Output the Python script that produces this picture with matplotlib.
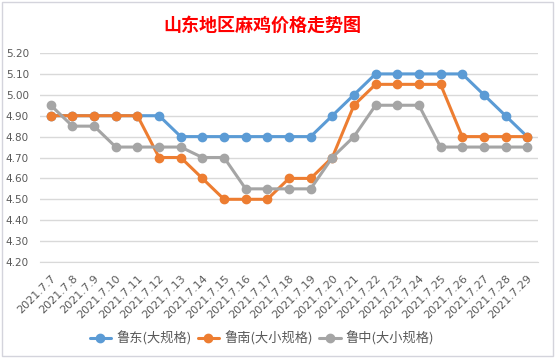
import matplotlib
matplotlib.use("Agg")
import matplotlib.pyplot as plt
import matplotlib.transforms as mtransforms
from matplotlib.patches import Rectangle

plt.rcParams['font.family'] = ['Noto Sans CJK SC', 'DejaVu Sans']

# data
dates = ["2021.7.7", "2021.7.8", "2021.7.9", "2021.7.10", "2021.7.11", "2021.7.12",
         "2021.7.13", "2021.7.14", "2021.7.15", "2021.7.16", "2021.7.17", "2021.7.18",
         "2021.7.19", "2021.7.20", "2021.7.21", "2021.7.22", "2021.7.23", "2021.7.24",
         "2021.7.25", "2021.7.26", "2021.7.27", "2021.7.28", "2021.7.29"]
ludong = [4.90, 4.90, 4.90, 4.90, 4.90, 4.90, 4.80, 4.80, 4.80, 4.80, 4.80, 4.80,
          4.80, 4.90, 5.00, 5.10, 5.10, 5.10, 5.10, 5.10, 5.00, 4.90, 4.80]
lunan = [4.90, 4.90, 4.90, 4.90, 4.90, 4.70, 4.70, 4.60, 4.50, 4.50, 4.50, 4.60,
         4.60, 4.70, 4.95, 5.05, 5.05, 5.05, 5.05, 4.80, 4.80, 4.80, 4.80]
luzhong = [4.95, 4.85, 4.85, 4.75, 4.75, 4.75, 4.75, 4.70, 4.70, 4.55, 4.55, 4.55,
           4.55, 4.70, 4.80, 4.95, 4.95, 4.95, 4.75, 4.75, 4.75, 4.75, 4.75]
series_names = ["鲁东(大规格)", "鲁南(大小规格)", "鲁中(大小规格)"]
y_ticks = [4.2, 4.3, 4.4, 4.5, 4.6, 4.7, 4.8, 4.9, 5.0, 5.1, 5.2]

colors = ["#5B9BD5", "#ED7D31", "#A5A5A5"]
text_color = "#595959"

fig = plt.figure(figsize=(5.56, 3.6), dpi=100)
fig.patches.append(Rectangle((2 / 556, 4 / 360), 551 / 556, 354 / 360, transform=fig.transFigure,
                             fill=False, edgecolor="#D4D4DC", linewidth=1.0))
ax = fig.add_axes([40 / 556, 1 - 262 / 360, 498 / 556, 209 / 360])

x = list(range(len(dates)))
for vals, name, c in zip([ludong, lunan, luzhong], series_names, colors):
    ax.plot(x, vals, color=c, linewidth=2.2, marker='o', markersize=6,
            label=name, solid_capstyle='round')

ax.set_xlim(-0.5, len(dates) - 0.5)
ax.set_ylim(4.2, 5.2)
ax.set_yticks(y_ticks)
ax.set_yticklabels(["{:.2f}".format(v) for v in y_ticks], fontsize=7.5, color=text_color,
                   family=['DejaVu Sans'])
ax.set_xticks(x)
ax.set_xticklabels(dates, rotation=45, ha='right', rotation_mode='anchor',
                   fontsize=8, color=text_color, family=['DejaVu Sans'])
offset = mtransforms.ScaledTranslation(-3 / 100, -14 / 100, fig.dpi_scale_trans)
for lab in ax.get_xticklabels():
    lab.set_transform(lab.get_transform() + offset)

ax.grid(axis='y', color="#D9D9D9", linewidth=1.0)
ax.set_axisbelow(True)
ax.tick_params(length=0, pad=8)
for s in ["top", "right", "left"]:
    ax.spines[s].set_visible(False)
ax.spines["bottom"].set_color("#D9D9D9")

fig.text(262 / 556, 1 - 25 / 360, "山东地区麻鸡价格走势图", ha='center', va='center',
         fontsize=13, fontweight='bold', color="#FF0000")

fig.legend(loc='center', bbox_to_anchor=(262 / 556, 1 - 338 / 360), ncol=3, frameon=False,
           fontsize=9.5, handlelength=1.6, columnspacing=0.5, handletextpad=0.4,
           labelcolor=text_color)

fig.savefig("out.png", dpi=100)
